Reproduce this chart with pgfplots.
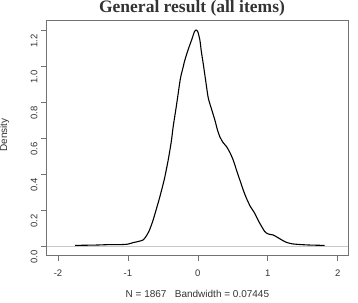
\documentclass[border=0pt]{standalone}
\usepackage{pgfplots}
\pgfplotsset{compat=1.18}
\usepackage{fontspec}
\setmainfont{Liberation Serif}
\setsansfont{Liberation Sans}
\definecolor{boxgray}{gray}{0.45}
\definecolor{zerogray}{RGB}{200,200,200}
\definecolor{txtgray}{gray}{0.2}
\begin{document}
\begin{tikzpicture}
\useasboundingbox (0,0) rectangle (358pt,302pt);
\begin{axis}[
  at={(46.5pt,46.7pt)}, anchor=south west,
  scale only axis, width=301.8pt, height=234.8pt,
  xmin=-2.165, xmax=2.152, ymin=-0.052, ymax=1.253,
  xtick={-2,-1,0,1,2}, xticklabels={-2,-1,0,1,2},
  ytick={0,0.2,0.4,0.6,0.8,1.0,1.2},
  yticklabels={0.0,0.2,0.4,0.6,0.8,1.0,1.2},
  tick align=outside, major tick length=5.5pt,
  xtick pos=bottom, ytick pos=left,
  axis line style={boxgray, line width=0.7pt},
  tick style={boxgray, line width=0.7pt},
  ticklabel style={font=\sffamily\fontsize{9.5}{10}\selectfont, text=txtgray},
  yticklabel style={rotate=90, anchor=south, xshift=-11pt},
  xticklabel style={yshift=-6pt},
  clip=false,
]
\addplot[zerogray, line width=0.6pt, forget plot] coordinates {(-2.165,0) (2.152,0)};
\addplot[black, line width=1.1pt, smooth, tension=0.4] coordinates {
(-1.757,0.003) (-1.6,0.004) (-1.45,0.005) (-1.3,0.007) (-1.15,0.007)
(-1.07,0.008) (-1.0,0.010) (-0.93,0.018) (-0.85,0.025) (-0.78,0.034)
(-0.73,0.06) (-0.69,0.09) (-0.64,0.144) (-0.59,0.21) (-0.543,0.274)
(-0.48,0.37) (-0.424,0.478) (-0.38,0.58) (-0.353,0.663) (-0.314,0.761)
(-0.281,0.848) (-0.25,0.93) (-0.21,0.995) (-0.186,1.033) (-0.14,1.09)
(-0.09,1.144) (-0.05,1.19) (-0.025,1.2) (0.0,1.19) (0.029,1.144)
(0.05,1.08) (0.076,1.015) (0.1,0.95) (0.124,0.885) (0.15,0.82)
(0.195,0.761) (0.243,0.7) (0.28,0.645) (0.314,0.607) (0.36,0.575)
(0.41,0.552) (0.46,0.518) (0.505,0.478) (0.55,0.425) (0.6,0.367)
(0.65,0.31) (0.695,0.265) (0.75,0.22) (0.814,0.181) (0.88,0.13)
(0.957,0.08) (1.01,0.066) (1.076,0.061) (1.15,0.045) (1.243,0.024)
(1.3,0.016) (1.362,0.011) (1.457,0.008) (1.6,0.005) (1.814,0.003)
};
\end{axis}
\node[anchor=base, font=\bfseries\fontsize{17.5}{18}\selectfont, text=txtgray] at (192pt,289pt) {General result (all items)};
\node[anchor=base, rotate=90, font=\sffamily\fontsize{10}{11}\selectfont, text=txtgray] at (7pt,167pt) {Density};
\node[font=\sffamily\fontsize{10}{11}\selectfont, text=txtgray] at (197.4pt,8.5pt) {N = 1867\ \ \ Bandwidth = 0.07445};
\end{tikzpicture}
\end{document}
